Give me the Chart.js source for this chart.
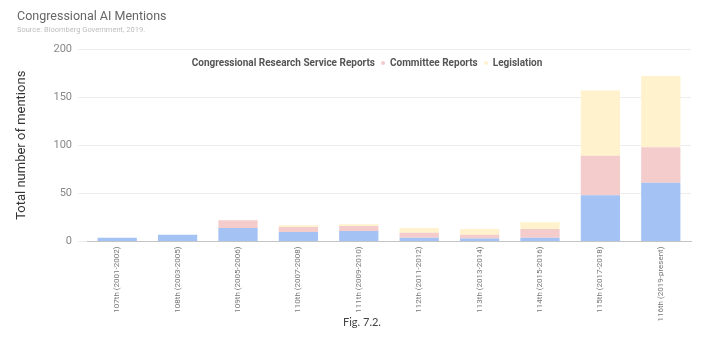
<!doctype html>
<html lang="en">
  <head>
    <script src="https://cdn.jsdelivr.net/npm/chart.js"></script>
    <meta charset="UTF-8" />
    <title>Congressional AI Mentions</title>
    <style>
      body {
        margin: 0;
        background: #fff;
        font-family: Roboto, Arial, sans-serif;
      }
      #wrap {
        position: relative;
        width: 720px;
        height: 353px;
      }
      #myChart {
        position: absolute;
        left: 0;
        top: 0;
      }
      .title {
        position: absolute;
        left: 17px;
        top: 8px;
        font-size: 12.5px;
        color: #666;
      }
      .sub {
        position: absolute;
        left: 17px;
        top: 25px;
        font-size: 7.5px;
        color: #bdbdbd;
      }
      .fig {
        position: absolute;
        left: 0;
        width: 724px;
        top: 315px;
        text-align: center;
        font-family: Lato, sans-serif;
        font-size: 11px;
        color: #444;
      }
      #legend {
        position: absolute;
        left: 0;
        width: 734px;
        top: 57px;
        text-align: center;
        font-size: 10px;
        font-weight: bold;
        color: #555;
        white-space: nowrap;
      }
      #legend .dot {
        display: inline-block;
        width: 4px;
        height: 4px;
        border-radius: 50%;
        margin: 0 5px 1px 6px;
        vertical-align: middle;
      }
    </style>
  </head>
  <body>
    <div id="wrap">
      <canvas id="myChart" width="720" height="353"></canvas>
      <div class="title">Congressional AI Mentions</div>
      <div class="sub">Source: Bloomberg Government, 2019.</div>
      <div id="legend"></div>
      <div class="fig">Fig. 7.2.</div>
    </div>

    <script>
      const congresses = [
        "107th (2001-2002)",
        "108th (2003-2005)",
        "109th (2005-2006)",
        "110th (2007-2008)",
        "111th (2009-2010)",
        "112th (2011-2012)",
        "113th (2013-2014)",
        "114th (2015-2016)",
        "115th (2017-2018)",
        "116th (2019-present)",
      ];
      const crsReports = [4, 7, 14, 10, 11, 4, 3, 4, 48, 61];
      const committeeReports = [0, 0, 8, 5, 5, 5, 4, 9, 41, 37];
      const legislation = [0, 0, 0, 2, 2, 5, 6, 7, 68, 74];
      const yTicks = [0, 50, 100, 150, 200];

      const ctx = document.getElementById("myChart").getContext("2d");
      const myChart = new Chart(ctx, {
        type: "bar",
        data: {
          labels: congresses,
          datasets: [
            { label: "Congressional Research Service Reports", data: crsReports, backgroundColor: "#a4c2f4" },
            { label: "Committee Reports", data: committeeReports, backgroundColor: "#f4cccc" },
            { label: "Legislation", data: legislation, backgroundColor: "#fff2cc" },
          ],
        },
        options: {
          responsive: false,
          animation: false,
          layout: { padding: { top: 49, right: 29, left: 0, bottom: 0 } },
          datasets: { bar: { barPercentage: 0.65, categoryPercentage: 1 } },
          plugins: {
            tooltip: { enabled: false },
            legend: { display: false },
          },
          scales: {
            x: {
              stacked: true,
              grid: { display: false, drawTicks: false },
              border: { display: true, color: "#c4c4c4" },
              ticks: {
                minRotation: 90,
                maxRotation: 90,
                padding: 5,
                color: "#777",
                font: { family: "Roboto", size: 8 },
              },
              afterFit: (scale) => {
                scale.height = 111.5;
              },
            },
            y: {
              stacked: true,
              min: 0,
              max: 200,
              afterBuildTicks: (scale) => {
                scale.ticks = yTicks.map((v) => ({ value: v }));
              },
              grid: { color: "#ededed", tickLength: 9 },
              border: { display: false },
              ticks: {
                padding: 6,
                color: "#888",
                font: { family: "Roboto", size: 11 },
              },
              title: {
                display: true,
                text: "Total number of mentions",
                color: "#333",
                font: { family: "Roboto", size: 13 },
                padding: { top: 14, bottom: 0 },
              },
              afterFit: (scale) => {
                scale.width = 87;
              },
            },
          },
        },
      });

      // simple html legend from the datasets
      const legend = document.getElementById("legend");
      myChart.data.datasets.forEach((ds, i) => {
        if (i > 0) {
          const dot = document.createElement("span");
          dot.className = "dot";
          dot.style.background = ds.backgroundColor;
          legend.appendChild(dot);
        }
        legend.appendChild(document.createTextNode(ds.label));
      });
    </script>
  </body>
</html>
